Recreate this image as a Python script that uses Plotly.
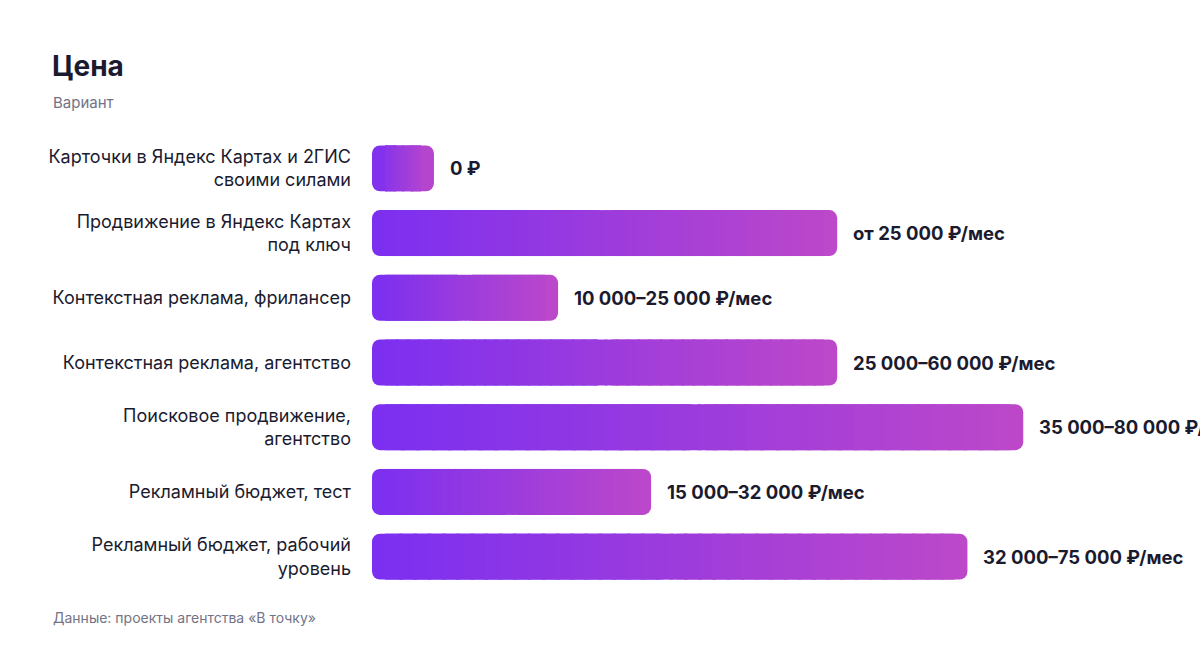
import plotly.graph_objects as go

# ---- data ----
categories = [
    "Карточки в Яндекс Картах и 2ГИС<br>своими силами",
    "Продвижение в Яндекс Картах<br>под ключ",
    "Контекстная реклама, фрилансер",
    "Контекстная реклама, агентство",
    "Поисковое продвижение,<br>агентство",
    "Рекламный бюджет, тест",
    "Рекламный бюджет, рабочий<br>уровень",
]
price_from = [0, 25000, 10000, 25000, 35000, 15000, 32000]
price_labels = [
    "0 ₽",
    "от 25 000 ₽/мес",
    "10 000–25 000 ₽/мес",
    "25 000–60 000 ₽/мес",
    "35 000–80 000 ₽/мес",
    "15 000–32 000 ₽/мес",
    "32 000–75 000 ₽/мес",
]

# ---- style ----
W, H = 1200, 648
ML, MR, MT, MB = 372, 0, 136, 59
XMAX = 44500
MIN_BAR = 3330          # minimum visible bar length (so 0 is still drawn)
END = 700               # length of rounded end caps (data units)
N_MID = 40
C0 = (123, 47, 240)
C1 = (189, 72, 201)
TEXT = "#1b1b2f"
GREY = "#737386"
FONT = "Inter"


def col(f):
    f = max(0.0, min(1.0, f))
    r, g, b = (round(C0[i] + (C1[i] - C0[i]) * f) for i in range(3))
    return f"rgb({r},{g},{b})"


lengths = [max(v, MIN_BAR) for v in price_from]
mids = [(L - 2 * END) / N_MID for L in lengths]

fig = go.Figure()

# rounded end caps: left half and right half of every bar
fig.add_trace(go.Bar(
    y=categories, orientation="h",
    base=[0] * len(lengths), x=[L / 2 for L in lengths],
    marker=dict(color=[col(END / 2 / L) for L in lengths], line_width=0, cornerradius=8),
    hoverinfo="skip", showlegend=False,
))
fig.add_trace(go.Bar(
    y=categories, orientation="h",
    base=[L / 2 for L in lengths], x=[L / 2 for L in lengths],
    marker=dict(color=[col(1 - END / 2 / L) for L in lengths], line_width=0, cornerradius=8),
    hoverinfo="skip", showlegend=False,
))
# gradient body
for k in range(N_MID):
    last = k == N_MID - 1
    fig.add_trace(go.Bar(
        y=categories, orientation="h",
        base=[END + k * m for m in mids],
        x=[(1.0 if last else 1.25) * m for m in mids],
        marker=dict(color=[col((END + (k + 0.5) * m) / L) for L, m in zip(lengths, mids)],
                    line_width=0),
        hoverinfo="skip", showlegend=False,
    ))

annotations = []
for cat, L, lab in zip(categories, lengths, price_labels):
    annotations.append(dict(
        x=L, y=cat, xref="x", yref="y", text=f"<b>{lab}</b>", showarrow=False,
        xanchor="left", yanchor="middle", xshift=14,
        font=dict(family=FONT, size=18.5, color=TEXT),
    ))

plot_w = W - ML - MR
plot_h = H - MT - MB
annotations.append(dict(
    xref="paper", yref="paper", x=(51 - ML) / plot_w, y=(H - MB - 102) / plot_h,
    text="Вариант", showarrow=False, xanchor="left", yanchor="middle",
    font=dict(family=FONT, size=15, color=GREY),
))
annotations.append(dict(
    xref="paper", yref="paper", x=(51 - ML) / plot_w, y=(H - MB - 617) / plot_h,
    text="Данные: проекты агентства «В точку»", showarrow=False, xanchor="left", yanchor="middle",
    font=dict(family=FONT, size=14, color=GREY),
))

fig.update_layout(
    width=W, height=H,
    barmode="overlay", bargap=0.29,
    margin=dict(l=ML, r=MR, t=MT, b=MB),
    paper_bgcolor="white", plot_bgcolor="white",
    title=dict(text="<b>Цена</b>", xref="container", yref="container",
               x=52 / W, y=1 - 66 / H, xanchor="left", yanchor="middle",
               font=dict(family=FONT, size=28, color=TEXT)),
    xaxis=dict(range=[0, XMAX], visible=False, fixedrange=True),
    yaxis=dict(type="category", categoryorder="array", categoryarray=categories,
               autorange="reversed", showgrid=False, showline=False, ticks="",
               ticklabelstandoff=20, fixedrange=True,
               tickfont=dict(family=FONT, size=18, color=TEXT)),
    annotations=annotations,
    showlegend=False,
)

fig.write_html("out.html", config={"displayModeBar": False},
               post_script="document.body.style.margin='0';document.body.style.overflow='hidden';")
